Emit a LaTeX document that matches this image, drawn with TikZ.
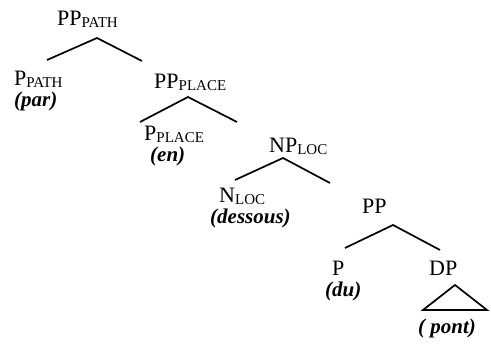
\documentclass[tikz,border=0pt]{standalone}
\usepackage{fontspec}
\setmainfont{Liberation Serif}
\newcommand{\cat}[2]{#1\raisebox{-2pt}{\fontsize{15}{15}\selectfont #2}}
\begin{document}
\begin{tikzpicture}[x=1pt,y=-1pt,
  lab/.style={anchor=base west,inner sep=0pt,font=\fontsize{22}{22}\selectfont},
  word/.style={anchor=base west,inner sep=0pt,font=\fontsize{21}{22}\selectfont\bfseries\itshape},
  branch/.style={line width=1.7pt}]
\useasboundingbox (0,0) rectangle (491,347);
% nodes
\node[lab] (pppath) at (57,26) {\cat{PP}{PATH}};
\node[lab] (ppath) at (14,86) {\cat{P}{PATH}};
\node[word] (par) at (14,107) {(par)};
\node[lab] (ppplace) at (154,89) {\cat{PP}{PLACE}};
\node[lab] (pplace) at (144,141) {\cat{P}{PLACE}};
\node[word] (en) at (150,162) {(en)};
\node[lab] (nploc) at (269,153) {\cat{NP}{LOC}};
\node[lab] (nloc) at (219,203) {\cat{N}{LOC}};
\node[word] (dessous) at (210,224) {(dessous)};
\node[lab] (pp) at (362,214) {PP};
\node[lab] (p) at (332,276) {P};
\node[word] (du) at (325,297) {(du)};
\node[lab] (dp) at (429,276) {DP};
\node[word] (pont) at (418,334) {( pont)};
% branch points
\coordinate (a1) at (97,38);
\coordinate (l1) at (47,60);
\coordinate (r1) at (142,61);
\coordinate (a2) at (188,97);
\coordinate (l2) at (140,122);
\coordinate (r2) at (237,122);
\coordinate (a3) at (283,158);
\coordinate (l3) at (235,180);
\coordinate (r3) at (330,183);
\coordinate (a4) at (393,225);
\coordinate (l4) at (345,248);
\coordinate (r4) at (440,250);
\coordinate (t1) at (455,285);
\coordinate (t2) at (423,310);
\coordinate (t3) at (487,310);
\draw[branch] (l1) -- (a1) -- (r1);
\draw[branch] (l2) -- (a2) -- (r2);
\draw[branch] (l3) -- (a3) -- (r3);
\draw[branch] (l4) -- (a4) -- (r4);
\draw[branch,line join=miter] (t1) -- (t2) -- (t3) -- cycle;
\end{tikzpicture}
\end{document}
